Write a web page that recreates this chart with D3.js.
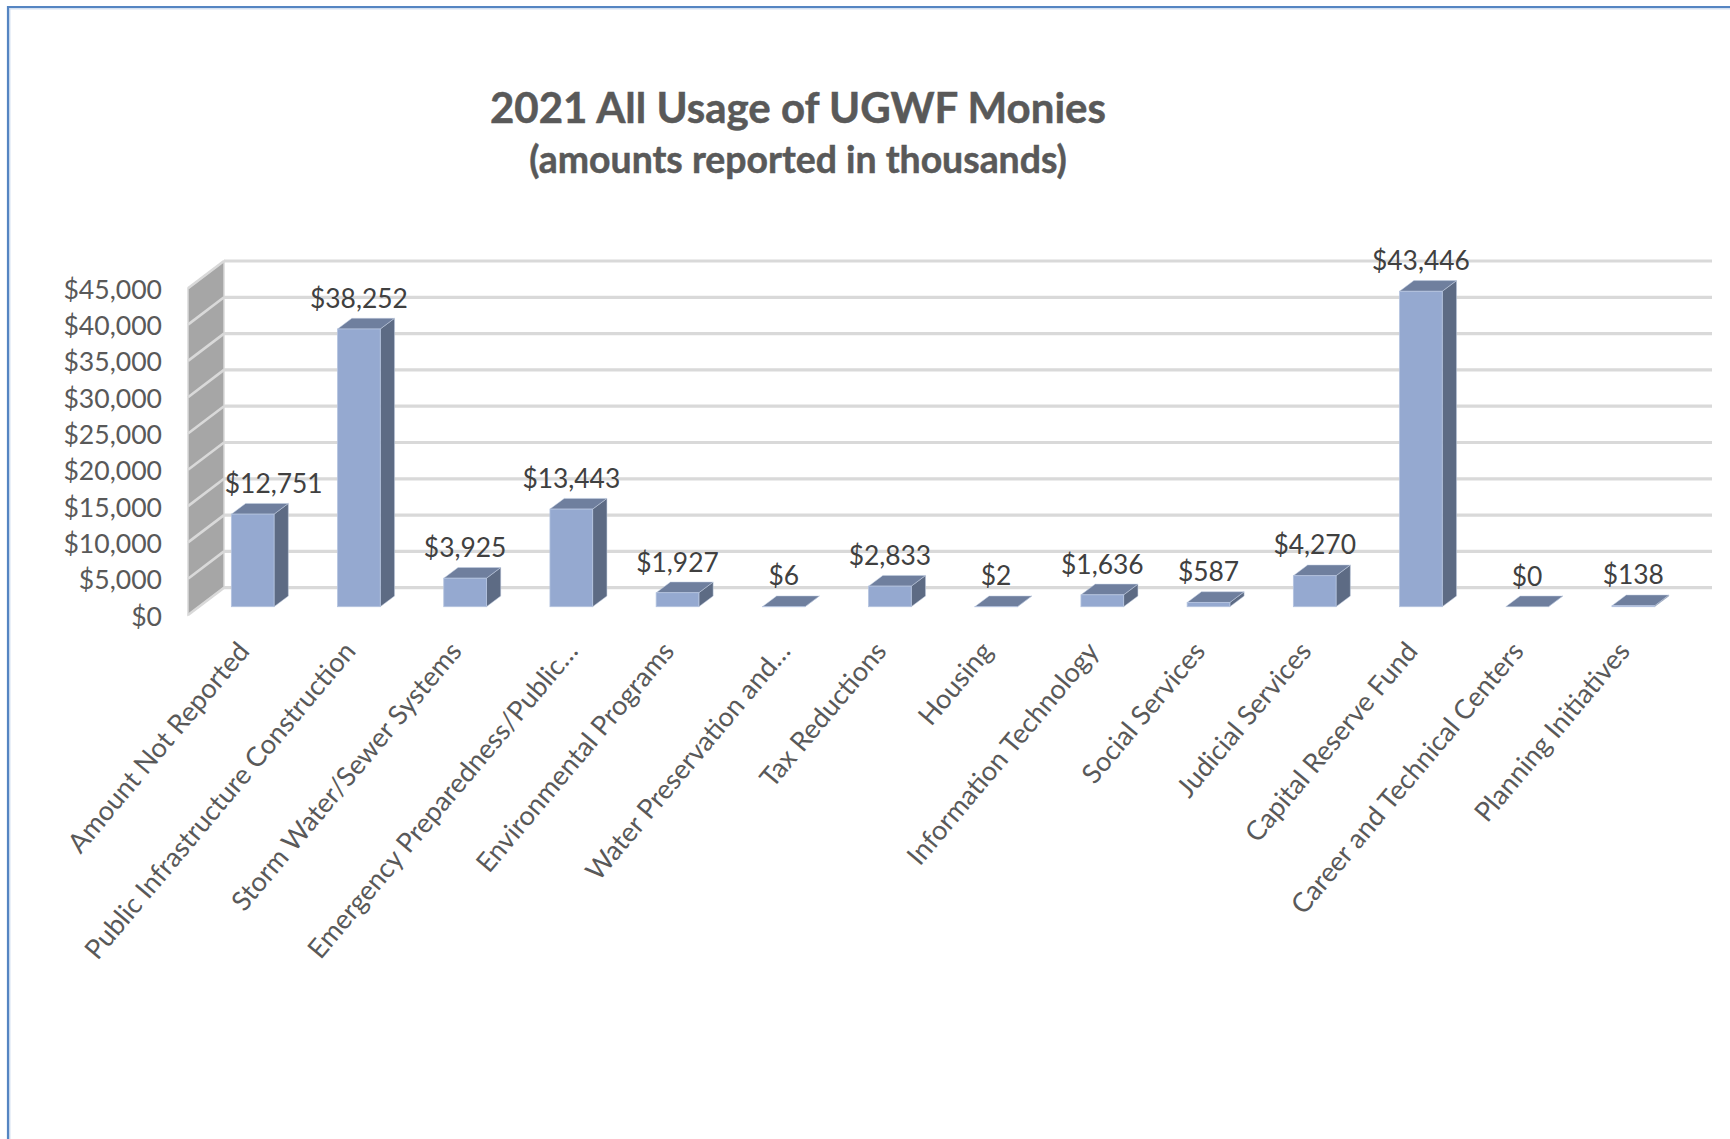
<!DOCTYPE html>
<html>
<head>
<meta charset="utf-8">
<script src="https://cdn.jsdelivr.net/npm/d3@7"></script>
<style>
  html, body { margin: 0; padding: 0; background: #fff; }
  svg { display: block; }
  text { font-family: Lato, "Open Sans", sans-serif; }
</style>
</head>
<body>
<div id="chart-container"></div>
<script>
// Chart values
const categories = ["Amount Not Reported", "Public Infrastructure Construction", "Storm Water/Sewer Systems",
  "Emergency Preparedness/Public…", "Environmental Programs", "Water Preservation and…", "Tax Reductions",
  "Housing", "Information Technology", "Social Services", "Judicial Services", "Capital Reserve Fund",
  "Career and Technical Centers", "Planning Initiatives"];
const amounts = [12751, 38252, 3925, 13443, 1927, 6, 2833, 2, 1636, 587, 4270, 43446, 0, 138];
const yTicks = [0, 5000, 10000, 15000, 20000, 25000, 30000, 35000, 40000, 45000];
const titleLines = ["2021 All Usage of UGWF Monies", "(amounts reported in thousands)"];

// Dimensions
const width = 1730, height = 1139;
const wallFront = 188, wallDepth = {x: 36, y: -27.3};
const barDepth = {x: 14.3, y: -10.7};
const barBase = 606.7;
const gridRight = 1712;

const svg = d3.select("#chart-container")
  .append("svg")
  .attr("width", width)
  .attr("height", height);

// Frame of the pasted picture (top and left edges only)
svg.append("path")
  .attr("d", `M9.5,${height} V8.5 H${width}`)
  .attr("fill", "none").attr("stroke", "#d5e1f1").attr("stroke-width", 2);
svg.append("path")
  .attr("d", `M8,${height} V7 H${width}`)
  .attr("fill", "none").attr("stroke", "#5585c2").attr("stroke-width", 2.2);

// Title
svg.selectAll(".title")
  .data(titleLines)
  .join("text")
  .attr("class", "title")
  .attr("x", 798)
  .attr("y", (d, i) => i === 0 ? 122.5 : 173)
  .attr("text-anchor", "middle")
  .attr("font-weight", 700)
  .attr("font-size", (d, i) => i === 0 ? 42 : 37.4)
  .attr("stroke", "#595959")
  .attr("stroke-width", 0.5)
  .attr("fill", "#595959")
  .text(d => d);

// Scales
const x = d3.scaleBand()
  .domain(categories)
  .range([199.6, 1686.4])
  .paddingInner(0.598)
  .paddingOuter(0.299);

const y = d3.scaleLinear()
  .domain([0, 45000])
  .range([615, 288.3]);

const barH = v => y(0) - y(v);

// Back wall gridlines
svg.append("g")
  .selectAll("line")
  .data(yTicks)
  .join("line")
  .attr("x1", wallFront + wallDepth.x)
  .attr("x2", gridRight)
  .attr("y1", d => y(d) + wallDepth.y)
  .attr("y2", d => y(d) + wallDepth.y)
  .attr("stroke", "#d9d9d9")
  .attr("stroke-width", 3.2);

// Side wall
svg.append("path")
  .attr("d", `M${wallFront},${y(0)} L${wallFront + wallDepth.x},${y(0) + wallDepth.y} ` +
    `V${y(45000) + wallDepth.y} L${wallFront},${y(45000)} Z`)
  .attr("fill", "#a6a6a6")
  .attr("stroke", "#d9d9d9")
  .attr("stroke-width", 1.5);

svg.append("g")
  .selectAll("line")
  .data(yTicks)
  .join("line")
  .attr("x1", wallFront)
  .attr("x2", wallFront + wallDepth.x)
  .attr("y1", d => y(d))
  .attr("y2", d => y(d) + wallDepth.y)
  .attr("stroke", "#d9d9d9")
  .attr("stroke-width", 2.6);

// Y axis labels
const yAxis = svg.append("g")
  .attr("transform", `translate(${wallFront},1.5)`)
  .call(d3.axisLeft(y).tickValues(yTicks).tickSize(0).tickPadding(26)
    .tickFormat(d => "$" + d3.format(",")(d)));
yAxis.select(".domain").remove();
yAxis.selectAll("text")
  .attr("font-size", 26.6)
  .attr("font-family", "Lato")
  .attr("fill", "#595959");

// Bars: front, side and top faces
const bars = svg.append("g")
  .selectAll("g")
  .data(categories.map((c, i) => ({c: c, v: amounts[i]})))
  .join("g");

bars.append("path")
  .attr("d", d => {
    const x1 = x(d.c) + x.bandwidth(), yb = barBase, yt = barBase - barH(d.v);
    return `M${x1},${yb} l${barDepth.x},${barDepth.y} V${yt + barDepth.y} L${x1},${yt} Z`;
  })
  .attr("fill", "#5d6b84")
  .attr("stroke", "#c3cee2")
  .attr("stroke-width", 0.5);

bars.append("path")
  .attr("d", d => {
    const x0 = x(d.c), yt = barBase - barH(d.v);
    return `M${x0},${yt} l${barDepth.x},${barDepth.y} h${x.bandwidth()} l${-barDepth.x},${-barDepth.y} Z`;
  })
  .attr("fill", "#6f7f9e")
  .attr("stroke", "#c3cee2")
  .attr("stroke-width", 0.5);

bars.append("rect")
  .attr("x", d => x(d.c))
  .attr("y", d => barBase - barH(d.v))
  .attr("width", x.bandwidth())
  .attr("height", d => barH(d.v))
  .attr("fill", "#95a9d0")
  .attr("stroke", "#b4c3df")
  .attr("stroke-width", 0.8);

// Data labels (the first one sits to the right of its bar)
bars.append("text")
  .attr("x", (d, i) => x(d.c) + x.bandwidth() / 2 + (i === 0 ? 21 : 0))
  .attr("y", d => barBase - barH(d.v) + barDepth.y - 10.5)
  .attr("text-anchor", "middle")
  .attr("font-size", 26.4)
  .attr("fill", "#404040")
  .text(d => "$" + d3.format(",")(d.v));

// Category labels, rotated (truncated ones end further right)
svg.append("g")
  .selectAll("text")
  .data(categories)
  .join("text")
  .attr("transform", d => `translate(${x(d) + x.bandwidth() / 2 - 2 + (d.endsWith("…") ? 10 : 0)},${652}) rotate(-50)`)
  .attr("text-anchor", "end")
  .attr("font-size", 27.1)
  .attr("fill", "#595959")
  .text(d => d);
</script>
</body>
</html>
